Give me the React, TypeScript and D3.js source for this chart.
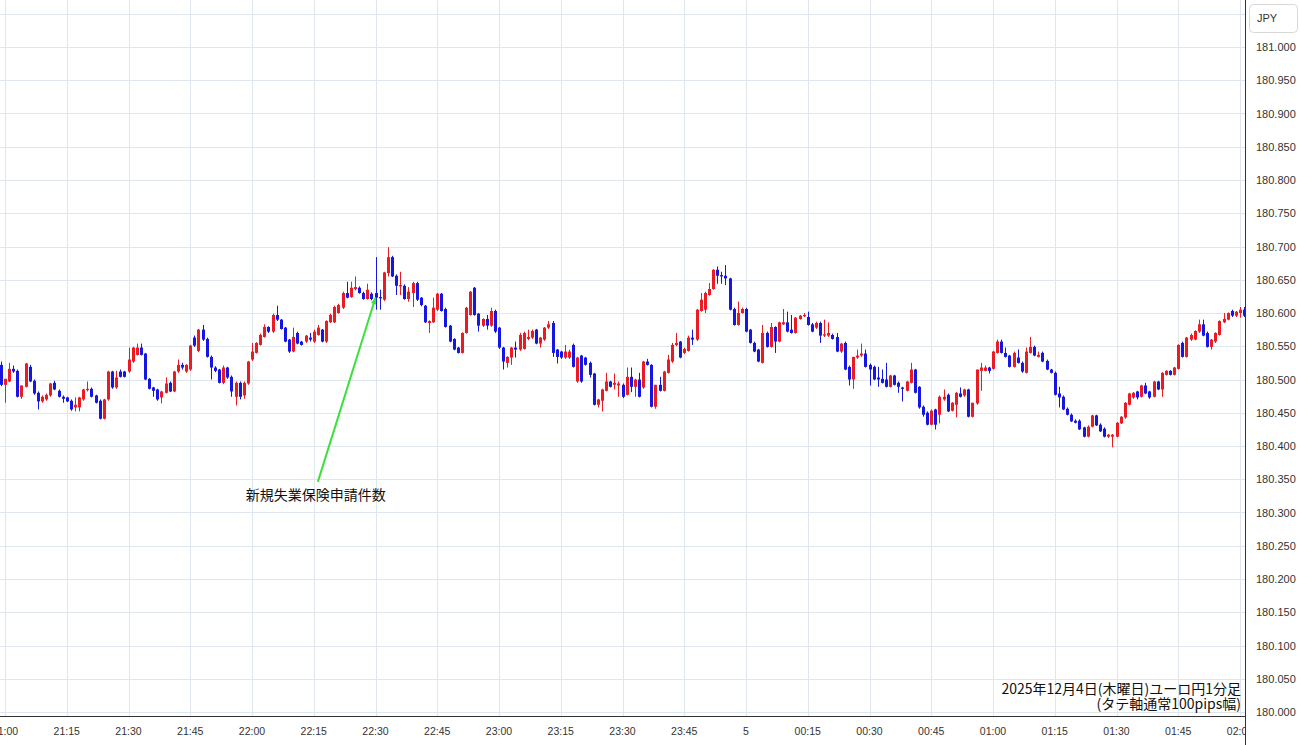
import React from 'react';
import * as d3 from 'd3';

// ---------- data ----------
const firstCandleTime = new Date(2025, 11, 4, 20, 59); // one candle per minute
const axisStart = new Date(2025, 11, 4, 21, 0);
const axisEnd = new Date(2025, 11, 5, 2, 0);

// [open, high, low, close]
const candles: [number, number, number, number][] = [
  [180.522,180.527,180.490,180.492],
  [180.492,180.501,180.465,180.501],[180.497,180.525,180.496,180.516],[180.516,180.521,180.510,180.512],[180.513,180.515,180.473,180.474],[180.474,180.491,180.471,180.491],
  [180.489,180.525,180.488,180.524],[180.519,180.522,180.496,180.497],[180.498,180.500,180.477,180.479],[180.480,180.482,180.455,180.467],[180.467,180.476,180.465,180.474],
  [180.470,180.479,180.468,180.477],[180.476,180.495,180.474,180.494],[180.495,180.498,180.484,180.485],[180.483,180.485,180.473,180.474],[180.474,180.476,180.465,180.471],
  [180.473,180.474,180.466,180.467],[180.468,180.470,180.453,180.455],[180.458,180.473,180.452,180.462],[180.458,180.474,180.452,180.473],[180.470,180.486,180.468,180.485],
  [180.484,180.497,180.482,180.486],[180.486,180.488,180.473,180.474],[180.476,180.477,180.464,180.465],[180.468,180.470,180.440,180.441],[180.441,180.471,180.440,180.470],
  [180.470,180.513,180.468,180.512],[180.512,180.513,180.486,180.488],[180.488,180.513,180.486,180.503],[180.512,180.515,180.503,180.504],[180.512,180.513,180.503,180.504],
  [180.512,180.548,180.510,180.530],[180.527,180.549,180.525,180.548],[180.537,180.554,180.536,180.548],[180.548,180.554,180.536,180.537],[180.539,180.540,180.499,180.500],
  [180.501,180.502,180.485,180.486],[180.488,180.489,180.474,180.483],[180.485,180.486,180.468,180.470],[180.473,180.483,180.464,180.482],[180.480,180.503,180.479,180.494],
  [180.495,180.497,180.481,180.482],[180.482,180.513,180.481,180.512],[180.512,180.530,180.510,180.522],[180.522,180.525,180.515,180.518],[180.512,180.523,180.510,180.522],
  [180.515,180.552,180.513,180.551],[180.563,180.566,180.549,180.551],[180.543,180.576,180.541,180.575],[180.575,180.582,180.558,180.560],[180.561,180.563,180.533,180.534],
  [180.534,180.536,180.500,180.518],[180.518,180.520,180.511,180.513],[180.515,180.516,180.494,180.495],[180.495,180.521,180.493,180.518],[180.518,180.519,180.501,180.503],
  [180.504,180.506,180.474,180.482],[180.474,180.497,180.461,180.495],[180.495,180.497,180.470,180.474],[180.476,180.497,180.471,180.495],[180.494,180.528,180.492,180.527],
  [180.530,180.555,180.528,180.542],[180.540,180.556,180.539,180.555],[180.552,180.569,180.551,180.567],[180.564,180.583,180.563,180.579],[180.579,180.580,180.570,180.572],
  [180.572,180.599,180.570,180.597],[180.597,180.611,180.588,180.590],[180.590,180.591,180.575,180.576],[180.578,180.579,180.556,180.557],[180.560,180.561,180.540,180.542],
  [180.542,180.578,180.541,180.564],[180.570,180.572,180.553,180.554],[180.557,180.558,180.551,180.552],[180.557,180.567,180.555,180.566],[180.563,180.570,180.557,180.560],
  [180.557,180.575,180.555,180.572],[180.567,180.582,180.566,180.578],[180.575,180.576,180.556,180.557],[180.557,180.589,180.555,180.588],[180.586,180.599,180.585,180.597],
  [180.586,180.611,180.585,180.609],[180.600,180.614,180.599,180.612],[180.608,180.632,180.606,180.630],[180.630,180.647,180.622,180.623],[180.624,180.647,180.623,180.638],
  [180.636,180.655,180.634,180.639],[180.638,180.640,180.629,180.630],[180.630,180.632,180.620,180.621],[180.621,180.644,180.620,180.635],[180.629,180.631,180.619,180.621],
  [180.630,180.684,180.605,180.623],[180.624,180.635,180.605,180.622],[180.620,180.662,180.618,180.661],[180.660,180.699,180.655,180.684],[180.684,180.686,180.654,180.655],
  [180.656,180.658,180.627,180.641],[180.640,180.662,180.627,180.642],[180.641,180.643,180.620,180.621],[180.621,180.639,180.617,180.632],[180.630,180.647,180.609,180.645],
  [180.645,180.647,180.618,180.620],[180.623,180.624,180.610,180.612],[180.611,180.612,180.585,180.586],[180.585,180.589,180.570,180.588],[180.586,180.623,180.585,180.608],
  [180.605,180.630,180.603,180.629],[180.629,180.630,180.602,180.603],[180.606,180.608,180.578,180.579],[180.581,180.582,180.556,180.557],[180.561,180.562,180.544,180.545],
  [180.548,180.549,180.539,180.540],[180.540,180.571,180.539,180.570],[180.570,180.609,180.569,180.608],[180.597,180.633,180.596,180.632],[180.638,180.639,180.596,180.597],
  [180.599,180.600,180.572,180.581],[180.581,180.592,180.579,180.591],[180.591,180.597,180.575,180.581],[180.581,180.608,180.579,180.603],[180.603,180.605,180.570,180.572],
  [180.578,180.579,180.546,180.548],[180.548,180.549,180.515,180.527],[180.525,180.535,180.518,180.534],[180.533,180.549,180.522,180.548],[180.548,180.557,180.533,180.545],
  [180.545,180.570,180.543,180.567],[180.546,180.572,180.545,180.570],[180.561,180.575,180.559,180.564],[180.563,180.575,180.561,180.573],[180.575,180.576,180.553,180.554],
  [180.554,180.564,180.548,180.563],[180.560,180.579,180.558,180.578],[180.578,180.588,180.576,180.583],[180.585,180.588,180.534,180.540],[180.545,180.546,180.524,180.534],
  [180.542,180.543,180.531,180.533],[180.533,180.552,180.531,180.542],[180.533,180.545,180.531,180.542],[180.552,180.554,180.518,180.519],[180.497,180.534,180.495,180.533],
  [180.536,180.537,180.495,180.497],[180.533,180.534,180.521,180.522],[180.525,180.527,180.503,180.507],[180.509,180.510,180.461,180.462],[180.462,180.471,180.458,180.470],
  [180.468,180.486,180.452,180.485],[180.483,180.510,180.482,180.497],[180.497,180.498,180.488,180.489],[180.492,180.509,180.485,180.495],[180.491,180.497,180.474,180.494],
  [180.492,180.494,180.472,180.474],[180.477,180.518,180.476,180.504],[180.504,180.518,180.481,180.489],[180.489,180.501,180.474,180.500],[180.500,180.510,180.473,180.474],
  [180.488,180.528,180.486,180.527],[180.527,180.531,180.521,180.522],[180.522,180.523,180.458,180.459],[180.459,180.492,180.456,180.492],[180.492,180.504,180.482,180.483],
  [180.483,180.513,180.482,180.512],[180.510,180.537,180.509,180.530],[180.527,180.555,180.525,180.552],[180.552,180.570,180.550,180.555],[180.557,180.558,180.532,180.533],
  [180.540,180.548,180.538,180.546],[180.543,180.566,180.542,180.563],[180.563,180.575,180.552,180.560],[180.560,180.606,180.558,180.605],[180.603,180.630,180.602,180.620],
  [180.605,180.632,180.600,180.630],[180.627,180.645,180.626,180.636],[180.636,180.666,180.635,180.665],[180.665,180.670,180.644,180.656],[180.657,180.662,180.644,180.655],
  [180.656,180.672,180.642,180.652],[180.652,180.653,180.604,180.605],[180.606,180.608,180.581,180.582],[180.582,180.617,180.581,180.600],[180.600,180.608,180.599,180.606],
  [180.606,180.608,180.571,180.572],[180.575,180.576,180.554,180.555],[180.555,180.557,180.541,180.542],[180.545,180.546,180.526,180.527],[180.525,180.582,180.524,180.570],
  [180.570,180.572,180.548,180.549],[180.549,180.585,180.548,180.579],[180.579,180.580,180.540,180.557],[180.557,180.587,180.556,180.586],[180.583,180.606,180.582,180.586],
  [180.586,180.602,180.571,180.572],[180.575,180.597,180.569,180.570],[180.570,180.594,180.569,180.593],[180.591,180.597,180.590,180.596],[180.595,180.600,180.594,180.597],
  [180.594,180.602,180.581,180.582],[180.583,180.585,180.571,180.572],[180.578,180.587,180.576,180.585],[180.585,180.587,180.555,180.566],[180.566,180.590,180.564,180.568],
  [180.566,180.586,180.564,180.570],[180.567,180.569,180.560,180.561],[180.564,180.570,180.541,180.542],[180.542,180.555,180.540,180.554],[180.555,180.557,180.514,180.515],
  [180.519,180.521,180.491,180.500],[180.500,180.534,180.486,180.534],[180.533,180.545,180.531,180.536],[180.536,180.554,180.534,180.539],[180.539,180.545,180.518,180.519],
  [180.522,180.524,180.491,180.515],[180.519,180.521,180.499,180.500],[180.503,180.519,180.489,180.500],[180.501,180.515,180.494,180.495],[180.500,180.525,180.488,180.489],
  [180.489,180.507,180.488,180.506],[180.506,180.507,180.491,180.492],[180.495,180.497,180.480,180.489],[180.488,180.489,180.467,180.486],[180.483,180.498,180.482,180.497],
  [180.495,180.525,180.494,180.515],[180.515,180.516,180.479,180.480],[180.489,180.490,180.456,180.458],[180.459,180.461,180.444,180.447],[180.450,180.452,180.431,180.432],
  [180.432,180.455,180.431,180.453],[180.455,180.456,180.425,180.432],[180.447,180.476,180.434,180.474],[180.470,180.485,180.468,180.474],[180.477,180.479,180.451,180.452],
  [180.453,180.466,180.452,180.465],[180.462,180.481,180.443,180.480],[180.479,180.488,180.473,180.474],[180.476,180.486,180.474,180.485],[180.485,180.486,180.443,180.444],
  [180.444,180.465,180.443,180.465],[180.464,180.515,180.462,180.515],[180.513,180.525,180.483,180.518],[180.513,180.521,180.512,180.518],[180.518,180.519,180.509,180.513],
  [180.516,180.543,180.515,180.542],[180.540,180.560,180.539,180.557],[180.557,180.560,180.539,180.540],[180.540,180.548,180.533,180.534],[180.536,180.537,180.518,180.519],
  [180.519,180.542,180.518,180.540],[180.533,180.545,180.524,180.525],[180.525,180.527,180.510,180.512],[180.510,180.548,180.509,180.542],[180.540,180.564,180.539,180.549],
  [180.549,180.551,180.535,180.536],[180.534,180.542,180.533,180.537],[180.540,180.542,180.526,180.527],[180.528,180.530,180.514,180.515],[180.515,180.516,180.509,180.510],
  [180.510,180.512,180.476,180.477],[180.479,180.489,180.458,180.473],[180.474,180.476,180.454,180.455],[180.456,180.458,180.446,180.447],[180.447,180.449,180.436,180.437],
  [180.438,180.440,180.434,180.435],[180.438,180.440,180.424,180.425],[180.428,180.429,180.413,180.414],[180.414,180.431,180.413,180.429],[180.429,180.447,180.428,180.446],
  [180.446,180.447,180.430,180.431],[180.432,180.434,180.421,180.422],[180.426,180.428,180.413,180.414],[180.414,180.418,180.412,180.417],[180.414,180.418,180.398,180.417],
  [180.414,180.436,180.413,180.435],[180.434,180.445,180.433,180.444],[180.443,180.466,180.441,180.465],[180.462,180.480,180.461,180.479],[180.473,180.481,180.471,180.480],
  [180.482,180.483,180.470,180.473],[180.474,180.492,180.473,180.491],[180.491,180.495,180.478,180.479],[180.482,180.483,180.471,180.473],[180.474,180.498,180.473,180.497],
  [180.497,180.498,180.484,180.485],[180.485,180.511,180.474,180.510],[180.507,180.514,180.506,180.513],[180.513,180.514,180.506,180.507],[180.507,180.519,180.506,180.518],
  [180.516,180.553,180.515,180.552],[180.555,180.557,180.533,180.534],[180.534,180.564,180.533,180.563],[180.560,180.569,180.558,180.567],[180.560,180.574,180.559,180.573],
  [180.572,180.590,180.570,180.583],[180.583,180.590,180.565,180.566],[180.570,180.572,180.548,180.549],[180.549,180.561,180.545,180.560],[180.557,180.571,180.555,180.570],
  [180.567,180.589,180.566,180.588],[180.586,180.600,180.585,180.591],[180.590,180.601,180.589,180.600],[180.603,180.605,180.594,180.596],[180.596,180.603,180.594,180.602],
  [180.600,180.609,180.593,180.605],[180.605,180.609,180.594,180.596],
];

const priceTicks = d3.range(0, 22).map((k) => +(180 + k * 0.05).toFixed(2));
const labelledPriceMax = 181.0;
const currencyLabel = 'JPY';
const annotation = {
  target: new Date(2025, 11, 4, 22, 30),
  targetPrice: 180.623,
  anchor: new Date(2025, 11, 4, 22, 16),
  anchorPrice: 180.346,
  label: '新規失業保険申請件数',
};
const captionLines = ['2025年12月4日(木曜日)ユーロ円1分足', '(タテ軸通常100pips幅)'];

// ---------- style ----------
const W = 1300;
const H = 745;
const PLOT_RIGHT = 1245;
const PLOT_BOTTOM = 716;
const UP = '#ec1a22';
const DOWN = '#1616e4';
const GRID = '#dfe6ee';
const FONT = '"Liberation Sans", Arial, sans-serif';
const JP_FONT = '"Noto Sans CJK JP", sans-serif';

export default function App() {
  const x = d3.scaleTime().domain([axisStart, axisEnd]).range([5, 1240]);
  const y = d3.scaleLinear().domain([180, 181]).range([712, 47]);
  const timeTicks = d3.timeMinute.every(15)!.range(axisStart, d3.timeMinute.offset(axisEnd, 1));
  const fmtTime = d3.timeFormat('%H:%M');
  const fmtTick = (d: Date) => (d.getHours() === 0 && d.getMinutes() === 0 ? String(d.getDate()) : fmtTime(d));
  const bodyW = 3;

  const tx = x(annotation.target);
  const ty = y(annotation.targetPrice);
  const ax = x(annotation.anchor);
  const ay = y(annotation.anchorPrice);
  const ang = Math.atan2(ty - ay, tx - ax);
  const ah = 7;
  const arrowPts = [
    [tx, ty],
    [tx - ah * Math.cos(ang - 0.4), ty - ah * Math.sin(ang - 0.4)],
    [tx - ah * Math.cos(ang + 0.4), ty - ah * Math.sin(ang + 0.4)],
  ]
    .map((p) => p.join(','))
    .join(' ');

  return (
    <svg
      width={W}
      height={H}
      style={{ position: 'absolute', left: 0, top: 0, display: 'block', background: '#fff' }}
    >
      <defs>
        <clipPath id="plot">
          <rect x={0} y={0} width={PLOT_RIGHT} height={PLOT_BOTTOM} />
        </clipPath>
        <clipPath id="xaxis">
          <rect x={0} y={PLOT_BOTTOM} width={PLOT_RIGHT} height={H - PLOT_BOTTOM} />
        </clipPath>
      </defs>
      <rect x={0} y={0} width={W} height={H} fill="#fff" />
      <g clipPath="url(#plot)">
        {priceTicks.map((p) => (
          <line key={'h' + p} x1={0} x2={PLOT_RIGHT} y1={Math.round(y(p)) + 0.5} y2={Math.round(y(p)) + 0.5} stroke={GRID} strokeWidth={1} />
        ))}
        {timeTicks.map((t) => (
          <line key={'v' + t.getTime()} x1={Math.round(x(t)) + 0.5} x2={Math.round(x(t)) + 0.5} y1={0} y2={PLOT_BOTTOM} stroke={GRID} strokeWidth={1} />
        ))}
        {candles.map(([o, h, l, c], i) => {
          const t = d3.timeMinute.offset(firstCandleTime, i);
          const cx = Math.round(x(t));
          const col = c >= o ? UP : DOWN;
          const top = y(Math.max(o, c));
          const bot = y(Math.min(o, c));
          return (
            <g key={i}>
              <line x1={cx + 0.5} x2={cx + 0.5} y1={y(h)} y2={y(l)} stroke={col} strokeWidth={1} />
              <rect x={cx - 1} y={top} width={bodyW} height={Math.max(1, bot - top)} fill={col} />
            </g>
          );
        })}
        <line x1={ax} y1={ay} x2={tx} y2={ty} stroke="#3be03b" strokeWidth={2} />
        <polygon points={arrowPts} fill="#3be03b" />
        <text x={ax - 2} y={ay + 18} textAnchor="middle" fontFamily={JP_FONT} fontSize={14} fill="#111">
          {annotation.label}
        </text>
        <text textAnchor="end" fontFamily={JP_FONT} fontSize={14} fill="#111">
          {captionLines.map((s, k) => (
            <tspan key={k} x={1241} y={694 + k * 15}>
              {s}
            </tspan>
          ))}
        </text>
      </g>
      {/* x axis */}
      <line x1={0} x2={PLOT_RIGHT} y1={PLOT_BOTTOM + 0.5} y2={PLOT_BOTTOM + 0.5} stroke="#333" strokeWidth={1} />
      <g clipPath="url(#xaxis)">
        {timeTicks.map((t) => (
          <text key={'xl' + t.getTime()} x={x(t)} y={735} textAnchor="middle" fontFamily={FONT} fontSize={10.5} fill="#333">
            {fmtTick(t)}
          </text>
        ))}
      </g>
      {/* y axis */}
      <line x1={PLOT_RIGHT + 0.5} x2={PLOT_RIGHT + 0.5} y1={0} y2={H} stroke="#333" strokeWidth={1} />
      {priceTicks
        .filter((p) => p <= labelledPriceMax)
        .map((p) => (
          <text key={'yl' + p} x={1256} y={y(p) + 4} fontFamily={FONT} fontSize={11} fill="#333">
            {d3.format('.3f')(p)}
          </text>
        ))}
      <rect x={1249.5} y={4.5} width={48} height={28} rx={4} fill="#fff" stroke="#d8d8d8" />
      <text x={1257} y={22} fontFamily={FONT} fontSize={11} fill="#333">
        {currencyLabel}
      </text>
    </svg>
  );
}
